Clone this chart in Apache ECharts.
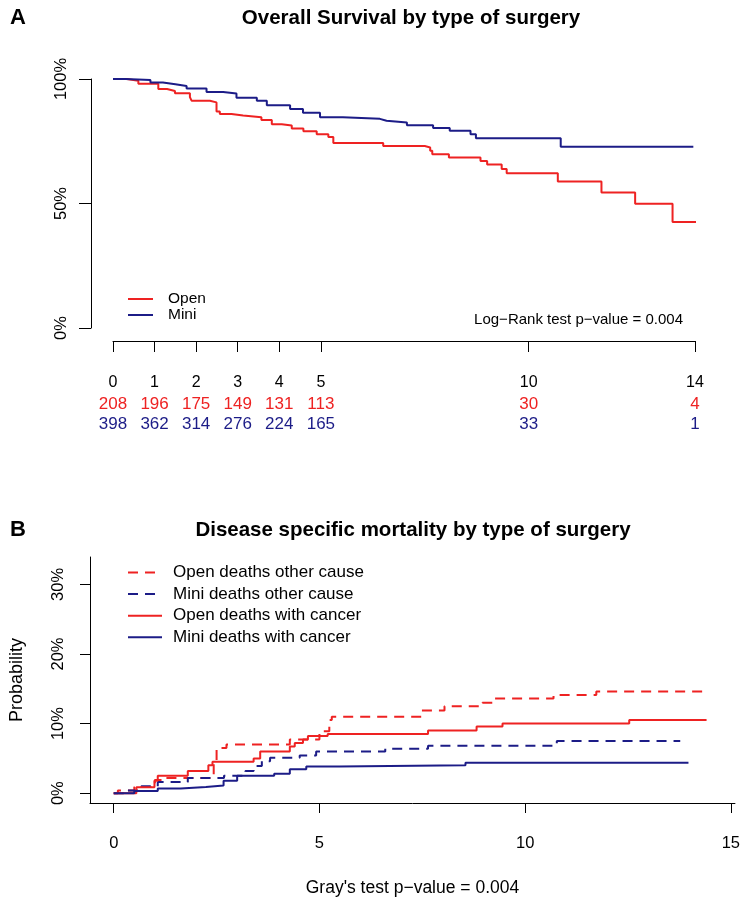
<!DOCTYPE html>
<html>
<head>
<meta charset="utf-8">
<script src="https://cdn.jsdelivr.net/npm/echarts@6/dist/echarts.min.js"></script>
<style>
  body { margin: 0; background: #fff; }
  #main { width: 743px; height: 898px; }
</style>
</head>
<body>
<div id="main"></div>
<script>
// --- A: Kaplan-Meier overall survival (time in years, survival in %)
const openTimes = [0, 0.33, 0.61, 1.09, 1.3, 1.49, 1.85, 1.89, 2.33, 2.49, 2.57, 2.85, 3.13, 3.57, 3.82, 4.06, 4.3, 4.58, 4.9, 5.18, 5.3, 6.5, 7.5, 7.63, 7.68, 8.08, 8.84, 9.0, 9.35, 9.47, 10.7, 11.75, 12.56, 13.46, 14.4]
const openSurv = [100, 99.3, 98.1, 96.0, 95.2, 94.3, 92.7, 91.3, 90.6, 86.9, 85.9, 85.3, 84.6, 83.5, 81.8, 81.3, 80.1, 79.0, 77.8, 76.7, 74.3, 73.1, 72.5, 71.2, 69.8, 68.5, 67.1, 65.7, 63.9, 62.1, 58.8, 54.4, 49.9, 42.6, 42.6]
const miniTimes = [0, 0.3, 0.9, 1.2, 1.5, 1.77, 2.25, 2.65, 2.97, 3.46, 3.7, 4.26, 4.57, 4.98, 5.53, 6.42, 6.58, 7.07, 7.7, 8.1, 8.6, 8.73, 10.77, 13.96]
const miniSurv = [100, 99.6, 98.6, 97.9, 97.2, 96.2, 94.8, 94.2, 92.5, 91.3, 89.5, 88.0, 86.4, 84.6, 84.0, 83.2, 82.5, 81.4, 80.3, 79.2, 77.8, 76.2, 72.8, 72.8]

// numbers at risk
const riskTimes = [0, 1, 2, 3, 4, 5, 10, 14]
const riskOpen = [208, 196, 175, 149, 131, 113, 30, 4]
const riskMini = [398, 362, 314, 276, 224, 165, 33, 1]

// --- B: cumulative incidence (%)
const openOtherT = [0, 0.1, 0.5, 1.0, 1.27, 2.43, 2.5, 2.74, 4.28, 5.0, 5.24, 5.3, 7.48, 8.04, 8.96, 9.25, 10.69, 11.73, 14.41]
const openOtherP = [0, 0.4, 0.9, 1.9, 2.2, 4.4, 6.5, 7.0, 7.7, 8.9, 10.5, 11.0, 11.9, 12.5, 13.0, 13.6, 14.1, 14.6, 14.6]
const miniOtherT = [0, 0.27, 0.67, 1.07, 1.8, 2.68, 3.2, 3.4, 3.6, 3.8, 4.52, 4.92, 6.6, 7.64, 10.77, 13.77]
const miniOtherP = [0, 0.4, 1.0, 1.6, 2.2, 2.5, 3.2, 3.9, 4.6, 5.1, 5.4, 6.0, 6.4, 6.8, 7.5, 7.5]
const openCancerT = [0, 0.55, 0.99, 1.07, 1.8, 2.3, 2.4, 3.4, 3.56, 4.28, 4.4, 4.6, 4.72, 5.2, 7.64, 8.82, 9.45, 12.53, 14.41]
const openCancerP = [0, 0.85, 1.8, 2.5, 3.2, 4.0, 4.5, 5.0, 6.0, 6.7, 7.2, 7.7, 8.2, 8.5, 9.0, 9.6, 10.0, 10.5, 10.5]
const miniCancerT = [0, 0.5, 1.07, 1.63, 2.24, 2.67, 3.0, 3.9, 4.28, 4.68, 5.48, 8.55, 13.97]
const miniCancerP = [0, 0.3, 0.66, 0.9, 1.1, 1.8, 2.5, 2.8, 3.45, 3.85, 4.0, 4.37, 4.37]
const bTicksX = [0, 5, 10, 15]
const bTicksY = [0, 10, 20, 30]

const RED = '#ee2222'
const NAVY = '#1c1c87'
const FONT = '"Liberation Sans", Arial, sans-serif'
const DASH = [10, 7]

const zip = (xs, ys) => xs.map((x, i) => [x, ys[i]])

// step line helper
const stepLine = (name, xs, ys, color, grid, dashed) => ({
  name,
  type: 'line',
  step: 'end',
  symbol: 'none',
  clip: false,
  xAxisIndex: grid === 0 ? 0 : 3,
  yAxisIndex: grid,
  data: zip(xs, ys),
  lineStyle: { color, width: 2, type: dashed ? DASH : 'solid' },
  itemStyle: { color },
  emphasis: { disabled: true }
})

const blackAxis = { onZero: false, lineStyle: { color: '#000', width: 1 } }
// hide the circle that line-series legends draw on top of the line
const noSymbol = { opacity: 0, color: 'rgba(0,0,0,0)', borderWidth: 0 }

const chart = echarts.init(document.getElementById('main'))

chart.setOption({
  animation: false,
  textStyle: { fontFamily: FONT, color: '#000' },
  graphic: [
    { type: 'text', x: 10, y: 18, style: { text: 'A', font: 'bold 22px ' + FONT, fill: '#000', verticalAlign: 'middle' } },
    { type: 'text', x: 411, y: 18, style: { text: 'Overall Survival by type of surgery', font: 'bold 20.5px ' + FONT, fill: '#000', align: 'center', verticalAlign: 'middle' } },
    { type: 'text', x: 683, y: 320, style: { text: 'Log\u2212Rank test p\u2212value = 0.004', font: '15px ' + FONT, fill: '#000', align: 'right', verticalAlign: 'middle' } },
    { type: 'text', x: 10, y: 530, style: { text: 'B', font: 'bold 22px ' + FONT, fill: '#000', verticalAlign: 'middle' } },
    { type: 'text', x: 413, y: 530, style: { text: 'Disease specific mortality by type of surgery', font: 'bold 20.5px ' + FONT, fill: '#000', align: 'center', verticalAlign: 'middle' } }
  ],
  legend: [
    {
      data: ['Open', 'Mini'],
      orient: 'vertical',
      left: 122,
      top: 286,
      itemWidth: 25,
      itemHeight: 14,
      itemGap: 0,
      selectedMode: false,
      itemStyle: noSymbol,
      textStyle: { fontSize: 15.5, color: '#000', padding: [0, 0, 0, 10], lineHeight: 14 }
    },
    {
      data: ['Open deaths other cause', 'Mini deaths other cause', 'Open deaths with cancer', 'Mini deaths with cancer'],
      orient: 'vertical',
      left: 122,
      top: 559,
      itemWidth: 34,
      itemHeight: 14,
      itemGap: 4.6,
      selectedMode: false,
      itemStyle: noSymbol,
      textStyle: { fontSize: 17, color: '#000', padding: [0, 0, 0, 6], lineHeight: 14 }
    }
  ],
  grid: [
    { left: 113, right: 48, top: 79, height: 249 },
    { left: 88, right: 3, top: 557, height: 251 }
  ],
  xAxis: [
    {
      gridIndex: 0, type: 'value', min: 0, max: 14, position: 'bottom', offset: 13,
      axisLine: blackAxis,
      axisTick: { customValues: riskTimes, length: 11, lineStyle: { color: '#000' } },
      axisLabel: { customValues: riskTimes, margin: 34, fontSize: 16, color: '#000' },
      splitLine: { show: false }
    },
    {
      gridIndex: 0, type: 'value', min: 0, max: 14, position: 'bottom', offset: 13,
      axisLine: { show: false, onZero: false }, axisTick: { show: false },
      axisLabel: { customValues: riskTimes, margin: 55, fontSize: 17, color: RED,
        formatter: v => String(riskOpen[riskTimes.indexOf(v)]) },
      splitLine: { show: false }
    },
    {
      gridIndex: 0, type: 'value', min: 0, max: 14, position: 'bottom', offset: 13,
      axisLine: { show: false, onZero: false }, axisTick: { show: false },
      axisLabel: { customValues: riskTimes, margin: 75, fontSize: 17, color: NAVY,
        formatter: v => String(riskMini[riskTimes.indexOf(v)]) },
      splitLine: { show: false }
    },
    {
      gridIndex: 1, type: 'value', min: -0.577, max: 15.1, position: 'bottom',
      axisLine: blackAxis,
      axisTick: { customValues: bTicksX, length: 10, lineStyle: { color: '#000' } },
      axisLabel: { customValues: bTicksX, margin: 32, fontSize: 16.5, color: '#000' },
      splitLine: { show: false },
      name: 'Gray\'s test p\u2212value = 0.004',
      nameLocation: 'middle',
      nameGap: 76,
      nameTextStyle: { fontSize: 17.5, color: '#000' }
    }
  ],
  yAxis: [
    {
      gridIndex: 0, type: 'value', min: 0, max: 100, interval: 50, offset: 22,
      axisLine: { show: true, onZero: false, lineStyle: { color: '#000', width: 1 } },
      axisTick: { show: true, length: 12, lineStyle: { color: '#000' } },
      axisLabel: { rotate: 90, margin: 21, fontSize: 16.5, color: '#000', formatter: '{value}%' },
      splitLine: { show: false }
    },
    {
      gridIndex: 1, type: 'value', min: -1.41, max: 33.94,
      axisLine: { show: true, onZero: false, lineStyle: { color: '#000', width: 1 } },
      axisTick: { show: true, customValues: bTicksY, length: 10, lineStyle: { color: '#000' } },
      axisLabel: { customValues: bTicksY, rotate: 90, margin: 23, fontSize: 16.5, color: '#000', formatter: v => v + '%' },
      splitLine: { show: false },
      name: 'Probability',
      nameLocation: 'middle',
      nameGap: 64,
      nameRotate: 90,
      nameTextStyle: { fontSize: 18, color: '#000' }
    }
  ],
  series: [
    stepLine('Open', openTimes, openSurv, RED, 0, false),
    stepLine('Mini', miniTimes, miniSurv, NAVY, 0, false),
    stepLine('Open deaths other cause', openOtherT, openOtherP, RED, 1, true),
    stepLine('Mini deaths other cause', miniOtherT, miniOtherP, NAVY, 1, true),
    stepLine('Open deaths with cancer', openCancerT, openCancerP, RED, 1, false),
    stepLine('Mini deaths with cancer', miniCancerT, miniCancerP, NAVY, 1, false)
  ]
})
</script>
</body>
</html>
